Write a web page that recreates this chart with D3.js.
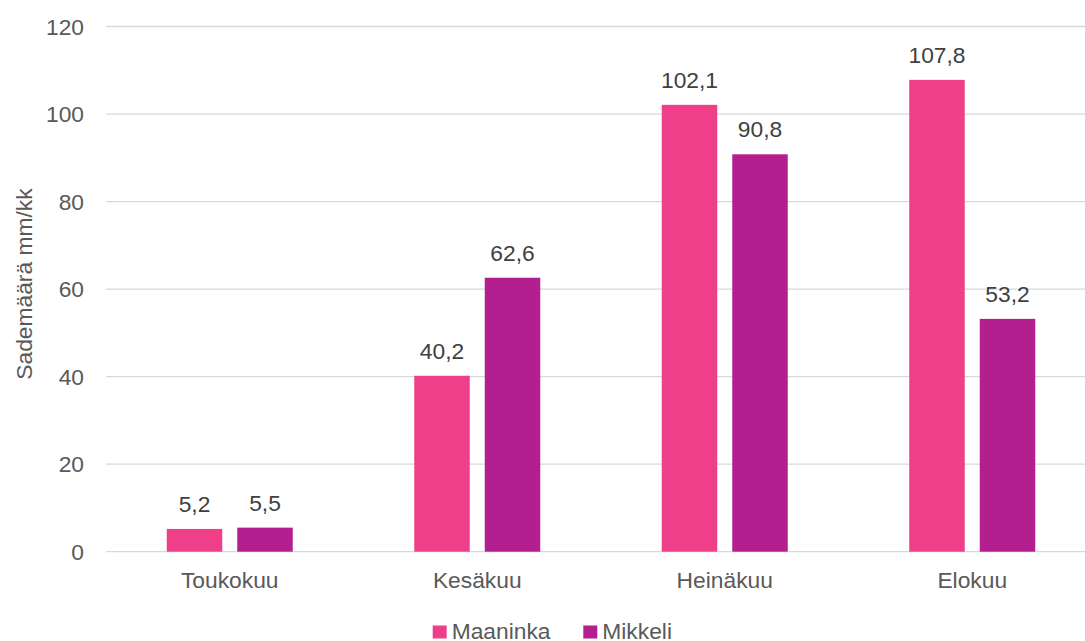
<!DOCTYPE html>
<html>
<head>
<meta charset="utf-8">
<script src="https://cdn.jsdelivr.net/npm/d3@7"></script>
<style>
  body { margin: 0; background: #fff; }
  text { font-family: "Liberation Sans", Arial, sans-serif; }
</style>
</head>
<body>
<div id="viz-container"></div>
<script>
let months = ["Toukokuu", "Kesäkuu", "Heinäkuu", "Elokuu"];
let seriesNames = ["Maaninka", "Mikkeli"];
let maaninka = [5.2, 40.2, 102.1, 107.8];
let mikkeli = [5.5, 62.6, 90.8, 53.2];
let yTicks = [0, 20, 40, 60, 80, 100, 120];
let colors = ["#EF3F88", "#B41F8F"];

let fontSize = 22.8;

let viz = d3.select("#viz-container")
              .append("svg")
                .attr("width", 1085)
                .attr("height", 641)
;

let x = d3.scaleBand().domain(months).range([106, 1096]);
// bar width 55.5, gap 15 inside a 126px group
let inner = d3.scaleBand().domain(seriesNames).range([0, 126]).paddingInner(0.2128);
let y = d3.scaleLinear().domain([0, 120]).range([551.7, 26.5]);

// gridlines
viz.append("g").selectAll("line").data(yTicks).enter().append("line")
   .attr("x1", 106).attr("x2", 1096)
   .attr("y1", d => y(d)).attr("y2", d => y(d))
   .attr("stroke", "#d9d9d9").attr("stroke-width", 1.3);

// y tick labels
viz.append("g").selectAll("text").data(yTicks).enter().append("text")
   .attr("x", 84).attr("y", d => y(d) + 8)
   .attr("text-anchor", "end")
   .attr("font-size", fontSize).attr("fill", "#595959")
   .text(d => d);

// y title
viz.append("text")
   .attr("transform", "translate(32," + ((y(0) + y(120)) / 2 - 5) + ") rotate(-90)")
   .attr("text-anchor", "middle")
   .attr("font-size", fontSize).attr("fill", "#595959")
   .text("Sademäärä mm/kk");

let groupOffset = (x.bandwidth() - 126) / 2;
let rows = [];
months.forEach(function(m, i){
  rows.push({ month: m, series: "Maaninka", value: maaninka[i], c: colors[0] });
  rows.push({ month: m, series: "Mikkeli", value: mikkeli[i], c: colors[1] });
});

function barX(d){
  return x(d.month) + groupOffset + inner(d.series);
}

viz.append("g").selectAll("rect").data(rows).enter().append("rect")
   .attr("x", barX)
   .attr("y", d => y(d.value))
   .attr("width", inner.bandwidth())
   .attr("height", d => y(0) - y(d.value))
   .attr("fill", d => d.c);

// data labels
viz.append("g").selectAll("text").data(rows).enter().append("text")
   .attr("x", d => barX(d) + inner.bandwidth() / 2)
   .attr("y", d => y(d.value) - 17)
   .attr("text-anchor", "middle")
   .attr("font-size", fontSize).attr("fill", "#404040")
   .text(d => String(d.value).replace(".", ","));

// category labels
viz.append("g").selectAll("text").data(months).enter().append("text")
   .attr("x", d => x(d) + x.bandwidth() / 2)
   .attr("y", 587.5)
   .attr("text-anchor", "middle")
   .attr("font-size", fontSize).attr("fill", "#595959")
   .text(d => d);

// legend
let legendX = [432.7, 583.3];
let legend = viz.append("g").selectAll("g").data(seriesNames).enter().append("g")
   .attr("transform", (d, i) => "translate(" + legendX[i] + ",625.5)");
legend.append("rect").attr("width", 14).attr("height", 13)
   .attr("fill", (d, i) => colors[i]);
legend.append("text").attr("x", 19).attr("y", 13.5)
   .attr("font-size", fontSize).attr("fill", "#595959")
   .text(d => d);
</script>
</body>
</html>
